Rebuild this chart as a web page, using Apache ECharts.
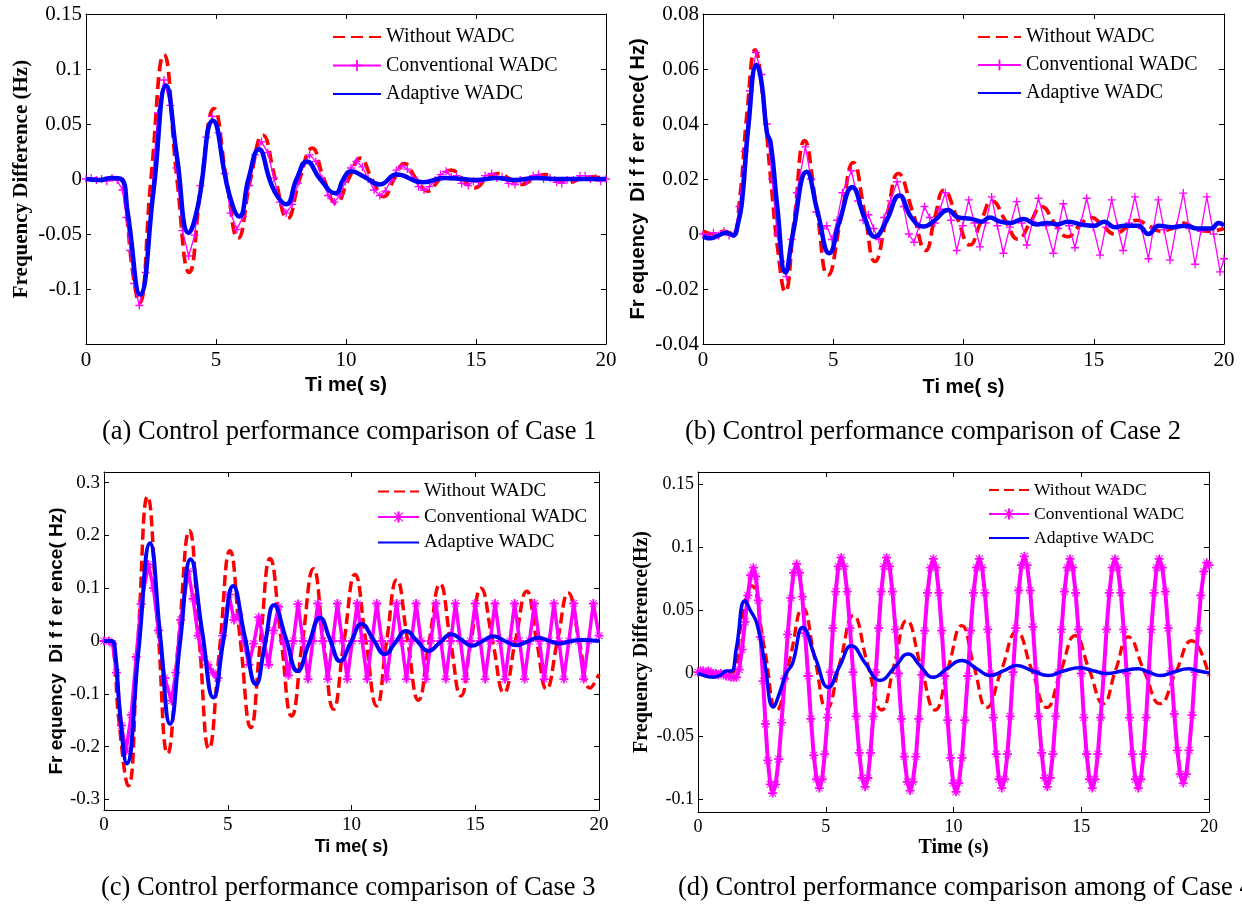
<!DOCTYPE html>
<html>
<head>
<meta charset="UTF-8">
<title>WADC control performance comparison</title>
<script src="https://cdn.jsdelivr.net/npm/echarts@6.0.0/dist/echarts.min.js"></script>
<style>
  html, body { margin: 0; padding: 0; background: #fff; }
  #chart { width: 1242px; height: 909px; }
</style>
</head>
<body>
<div id="chart"></div>
<script>
// ---- ticks ----
const timeTicks = [0, 5, 10, 15, 20];
const yTicksA = [-0.15, -0.1, -0.05, 0, 0.05, 0.1, 0.15];
const yLabelsA = [-0.1, -0.05, 0, 0.05, 0.1, 0.15];
const yTicksB = [-0.04, -0.02, 0, 0.02, 0.04, 0.06, 0.08];
const yTicksC = [-0.3, -0.2, -0.1, 0, 0.1, 0.2, 0.3];
const yTicksD = [-0.1, -0.05, 0, 0.05, 0.1, 0.15];

const seriesNames = ['Without WADC', 'Conventional WADC', 'Adaptive WADC'];

// ---- case 1 : [time s, frequency difference Hz] ----
const a_without = [[0,0],[0.7,0],[1.35,0],[1.55,-0.03],[1.8,-0.085],[2.05,-0.113],[2.5,0],[3.0,0.113],[3.5,0],[3.97,-0.085],[4.45,0],[4.92,0.064],[5.4,0],[5.85,-0.054],[6.33,0],[6.8,0.04],[7.28,0],[7.75,-0.036],[8.22,0],[8.7,0.028],[9.15,0],[9.62,-0.022],[10.1,0],[10.55,0.019],[11.0,0],[11.45,-0.016],[11.85,0],[12.25,0.014],[12.7,0],[13.15,-0.011],[13.6,0],[14.05,0.008],[14.5,0],[14.95,-0.008],[15.4,0],[15.85,0.005],[16.3,0],[16.75,-0.005],[17.2,0],[17.65,0.004],[18.1,0],[18.55,-0.003],[19.0,0],[19.45,0.002],[20,0]];
const a_conventional = [[0,0],[0.2,0.001],[0.4,-0.001],[0.6,0],[0.8,-0.002],[1.0,0.001],[1.2,-0.001],[1.4,-0.01],[1.55,-0.035],[1.7,-0.065],[1.85,-0.095],[2.05,-0.115],[2.29,-0.085],[2.53,-0.012],[2.76,0.06],[3.0,0.09],[3.24,0.067],[3.48,0.01],[3.71,-0.047],[3.95,-0.07],[4.18,-0.051],[4.4,-0.006],[4.63,0.038],[4.85,0.057],[5.09,0.042],[5.33,0.005],[5.56,-0.031],[5.8,-0.046],[6.04,-0.034],[6.28,-0.006],[6.51,0.022],[6.75,0.034],[6.99,0.024],[7.23,0.001],[7.46,-0.021],[7.7,-0.031],[7.93,-0.023],[8.15,-0.004],[8.38,0.014],[8.6,0.022],[8.84,0.016],[9.08,0.0],[9.31,-0.015],[9.55,-0.021],[9.76,-0.015],[9.98,-0.002],[10.19,0.01],[10.4,0.016],[10.63,0.011],[10.85,0.0],[11.08,-0.01],[11.3,-0.015],[11.51,-0.011],[11.73,-0.001],[11.94,0.008],[12.15,0.012],[12.36,0.009],[12.58,0.001],[12.79,-0.007],[13.0,-0.01],[13.21,-0.007],[13.43,-0.001],[13.64,0.004],[13.85,0.007],[14.05,0.002],[14.25,0.003],[14.45,-0.004],[14.7,-0.006],[14.9,-0.002],[15.1,-0.003],[15.35,0.003],[15.6,0.005],[15.8,0.001],[16.0,0.002],[16.25,-0.004],[16.5,-0.005],[16.7,-0.001],[16.95,-0.002],[17.2,0.003],[17.4,0.004],[17.6,0],[17.85,0.001],[18.1,-0.003],[18.3,-0.004],[18.5,-0.001],[18.75,-0.001],[19.0,0.003],[19.2,0.003],[19.4,0],[19.6,0.001],[19.8,-0.002],[20,0]];
const a_adaptive = [[0,0],[0.5,-0.001],[1.0,0.001],[1.35,0],[1.6,-0.03],[2.08,-0.105],[2.6,-0.01],[3.08,0.085],[3.5,0.02],[3.95,-0.049],[4.3,-0.025],[4.88,0.053],[5.5,-0.013],[5.9,-0.034],[6.25,0],[6.65,0.027],[7.1,-0.003],[7.4,-0.017],[7.7,-0.023],[8.1,0],[8.5,0.016],[9.0,0],[9.6,-0.013],[9.9,0],[10.2,0.007],[10.7,0.002],[11.3,-0.005],[11.95,0.004],[12.95,-0.003],[13.8,0.001],[14.5,0],[15,-0.001],[15.8,0.001],[16.5,-0.001],[17.3,0.001],[18.2,0],[19,0],[20,0]];

// ---- case 2 ----
const b_without = [[0,0.001],[0.4,0],[0.8,0.001],[1.15,0],[1.4,0.012],[1.7,0.045],[2.0,0.067],[2.3,0.05],[2.6,0.02],[2.9,-0.008],[3.15,-0.021],[3.5,0.005],[3.9,0.034],[4.35,0.01],[4.8,-0.015],[5.3,0.006],[5.77,0.026],[6.2,0.008],[6.6,-0.01],[7.05,0.006],[7.5,0.022],[8.05,0.008],[8.55,-0.006],[8.9,0.006],[9.25,0.016],[9.75,0.006],[10.25,-0.004],[10.65,0.004],[11.1,0.012],[11.6,0.005],[12.1,-0.002],[12.55,0.004],[13.0,0.01],[13.5,0.004],[14.0,-0.001],[14.45,0.003],[14.9,0.006],[15.35,0.003],[15.8,0],[16.2,0.002],[16.65,0.005],[17.1,0.003],[17.55,0.001],[18.0,0.002],[18.45,0.004],[18.9,0.002],[19.4,0.001],[20,0.002]];
const b_conventional = [[0,0],[0.2,-0.001],[0.4,0.0005],[0.6,-0.0005],[0.8,0.001],[1.0,-0.0005],[1.2,0],[1.4,0.01],[1.6,0.03],[1.8,0.052],[2.03,0.066],[2.25,0.058],[2.45,0.04],[2.65,0.02],[2.85,0],[3.0,-0.01],[3.2,-0.0155],[3.4,-0.002],[3.6,0.015],[3.93,0.0317],[4.15,0.02],[4.35,0.008],[4.55,0.002],[4.75,0.003],[4.95,-0.002],[5.15,0.005],[5.35,0.015],[5.7,0.023],[5.95,0.012],[6.15,0.005],[6.35,0.007],[6.55,0.002],[6.75,-0.002],[6.95,0.006],[7.2,0.012],[7.45,0.019],[7.7,0.01],[7.9,0],[8.1,-0.003],[8.3,0.003],[8.5,0.01],[8.7,0.006],[8.9,0.004],[9.1,0.009],[9.3,0.015],[9.52,0.005],[9.74,-0.006],[9.97,0.003],[10.2,0.0124],[10.42,0.004],[10.63,-0.0047],[10.85,0.004],[11.08,0.0135],[11.3,0.003],[11.53,-0.007],[11.78,0.0025],[12.04,0.0118],[12.23,0.004],[12.43,-0.004],[12.65,0.0045],[12.88,0.013],[13.16,0.003],[13.45,-0.007],[13.64,0.002],[13.83,0.011],[14.05,0.003],[14.28,-0.005],[14.5,0.004],[14.73,0.013],[14.98,0.0025],[15.24,-0.0077],[15.46,0.0025],[15.69,0.0124],[15.91,0.003],[16.13,-0.006],[16.35,0.004],[16.58,0.0135],[16.84,0.002],[17.1,-0.009],[17.29,0.002],[17.48,0.0124],[17.7,0.0015],[17.93,-0.0095],[18.18,0.003],[18.44,0.0149],[18.66,0.002],[18.89,-0.011],[19.11,0.001],[19.34,0.0135],[19.6,0],[19.85,-0.0138],[20,-0.009]];
const b_adaptive = [[0,-0.001],[0.3,-0.0015],[0.6,-0.0005],[0.9,0.0005],[1.15,-0.0005],[1.35,0.004],[1.5,0.012],[1.75,0.04],[2.06,0.0615],[2.25,0.055],[2.45,0.037],[2.6,0.033],[2.85,0.01],[3.17,-0.014],[3.45,0],[3.98,0.0226],[4.4,0.008],[4.85,-0.007],[5.25,0.005],[5.73,0.017],[6.2,0.006],[6.6,-0.001],[7.05,0.005],[7.54,0.014],[8.0,0.006],[8.46,0.0027],[8.9,0.005],[9.4,0.0087],[9.8,0.006],[10.3,0.0055],[10.7,0.0045],[11.0,0.006],[11.4,0.0045],[11.8,0.004],[12.3,0.0055],[12.8,0.0035],[13.2,0.004],[13.6,0.0035],[14.0,0.0045],[14.5,0.0035],[15.0,0.003],[15.4,0.0045],[15.8,0.0025],[16.2,0.003],[16.7,0.003],[17.1,0],[17.5,0.003],[18.0,0.0025],[18.5,0.003],[19.0,0.002],[19.5,0.002],[19.8,0.004],[20,0.003]];

// ---- case 3 ----
const c_without = [[0,0],[0.2,0],[0.37,-0.01],[0.6,-0.15],[0.98,-0.274],[1.37,0],[1.76,0.274],[2.17,0.03],[2.57,-0.213],[3.01,0],[3.45,0.209],[3.85,0],[4.24,-0.204],[4.67,-0.015],[5.09,0.171],[5.51,0],[5.93,-0.164],[6.32,0],[6.71,0.156],[7.15,0.005],[7.58,-0.142],[8.02,0],[8.46,0.137],[8.87,0],[9.27,-0.129],[9.7,0],[10.14,0.126],[10.58,0],[11.02,-0.123],[11.42,0],[11.83,0.116],[12.27,0],[12.7,-0.112],[13.14,0],[13.58,0.108],[14.0,0],[14.42,-0.104],[14.83,0],[15.23,0.1],[15.7,0],[16.16,-0.098],[16.62,0],[17.08,0.094],[17.48,0],[17.88,-0.091],[18.32,0],[18.76,0.091],[19.2,0],[19.64,-0.089],[20,-0.063]];
const c_conventional = [[0,0],[0.2,0],[0.35,-0.005],[0.5,-0.06],[0.7,-0.16],[0.89,-0.208],[1.1,-0.14],[1.3,-0.03],[1.5,0.07],[1.79,0.145],[2.0,0.1],[2.2,0.02],[2.45,-0.07],[2.73,-0.113],[2.9,-0.06],[3.1,0.04],[3.4,0.132],[3.6,0.08],[3.8,0.01],[4.0,-0.03],[4.2,-0.045],[4.4,-0.06],[4.6,-0.07],[4.8,0.01],[5.05,0.088],[5.25,0.04],[5.45,0.05],[5.65,0],[5.85,-0.045],[6.05,-0.005],[6.25,0.045],[6.45,0],[6.65,-0.045],[6.85,0.02],[7.05,0.065],[7.25,0],[7.45,-0.065],[7.65,0],[7.84,0.07],[8.04,0],[8.24,-0.072],[8.44,0],[8.64,0.071],[8.84,0],[9.04,-0.072],[9.24,0],[9.43,0.071],[9.63,0],[9.83,-0.072],[10.03,0],[10.23,0.071],[10.43,0],[10.63,-0.072],[10.83,0],[11.02,0.071],[11.22,0],[11.42,-0.072],[11.62,0],[11.82,0.071],[12.02,0],[12.22,-0.072],[12.42,0],[12.61,0.071],[12.81,0],[13.01,-0.072],[13.21,0],[13.41,0.071],[13.61,0],[13.81,-0.072],[14.01,0],[14.2,0.071],[14.4,0],[14.6,-0.072],[14.8,0],[15.0,0.071],[15.2,0],[15.4,-0.072],[15.6,0],[15.8,0.071],[16.0,0],[16.2,-0.072],[16.4,0],[16.59,0.071],[16.79,0],[16.99,-0.072],[17.19,0],[17.39,0.071],[17.59,0],[17.79,-0.072],[17.99,0],[18.18,0.071],[18.38,0],[18.58,-0.072],[18.78,0],[18.98,0.071],[19.18,0],[19.38,-0.072],[19.58,0],[19.77,0.071],[20,0.01]];
const c_adaptive = [[0,0],[0.3,0],[0.45,-0.02],[0.65,-0.14],[0.92,-0.232],[1.39,-0.02],[1.86,0.185],[2.27,0.01],[2.67,-0.157],[3.08,0],[3.5,0.155],[3.96,0.02],[4.42,-0.107],[4.82,0],[5.22,0.104],[5.68,0.01],[6.14,-0.082],[6.5,-0.007],[6.87,0.068],[7.35,0.005],[7.82,-0.057],[8.27,-0.006],[8.73,0.044],[9.13,0.003],[9.54,-0.038],[9.97,-0.003],[10.41,0.032],[10.88,0.003],[11.35,-0.025],[11.77,-0.003],[12.2,0.019],[12.65,0],[13.1,-0.019],[13.57,-0.003],[14.04,0.013],[14.45,0.002],[14.86,-0.009],[15.3,0],[15.73,0.009],[16.2,0],[16.67,-0.008],[17.1,-0.001],[17.55,0.006],[18.0,0],[18.42,-0.005],[18.8,-0.001],[19.23,0.002],[20,0]];

// ---- case 4 ----
const d_without = [[0,0],[0.5,0],[1.0,0],[1.37,0.001],[1.7,0.04],[2.1,0.0696],[2.6,0.02],[3.08,-0.029],[3.6,0.012],[4.1,0.052],[4.57,0.012],[5.04,-0.028],[5.56,0.009],[6.08,0.046],[6.63,0.008],[7.19,-0.029],[7.68,0.007],[8.17,0.042],[8.72,0.006],[9.28,-0.029],[9.8,0.005],[10.32,0.038],[10.81,0.005],[11.3,-0.027],[11.88,0.003],[12.47,0.033],[13.06,0.003],[13.65,-0.027],[14.2,0.002],[14.76,0.03],[15.31,0.003],[15.86,-0.024],[16.35,0.003],[16.84,0.029],[17.46,0.002],[18.08,-0.024],[18.7,0.001],[19.32,0.026],[20,-0.002]];
const d_conventional = [[0,0.001],[0.1,0.002],[0.2,0.002],[0.3,0.001],[0.4,0.002],[0.5,0.001],[0.6,0],[0.7,0],[0.8,-0.001],[0.9,0],[1.0,-0.001],[1.1,-0.002],[1.2,-0.002],[1.3,-0.003],[1.4,-0.003],[1.5,-0.003],
  [1.61,0.003],[1.72,0.019],[1.84,0.041],[1.95,0.062],[2.06,0.078],[2.17,0.084],
  [2.26,0.077],[2.36,0.058],[2.45,0.029],[2.55,-0.006],[2.64,-0.04],[2.73,-0.069],[2.83,-0.088],[2.92,-0.095],
  [3.04,-0.088],[3.16,-0.068],[3.27,-0.039],[3.39,-0.004],[3.51,0.031],[3.63,0.06],[3.74,0.08],[3.86,0.087],
  [3.97,0.08],[4.08,0.061],[4.19,0.032],[4.31,-0.002],[4.42,-0.036],[4.53,-0.065],[4.64,-0.084],[4.75,-0.091],
  [4.86,-0.084],[4.96,-0.064],[5.07,-0.035],[5.18,0.001],[5.28,0.036],[5.39,0.065],[5.49,0.085],[5.6,0.092],
  [5.72,0.085],[5.84,0.065],[5.95,0.036],[6.07,0.001],[6.19,-0.034],[6.31,-0.063],[6.42,-0.083],[6.54,-0.09],
  [6.65,-0.083],[6.75,-0.063],[6.86,-0.034],[6.96,0.001],[7.07,0.036],[7.17,0.065],[7.28,0.085],[7.38,0.092],
  [7.5,0.085],[7.61,0.065],[7.73,0.035],[7.84,0],[7.96,-0.036],[8.07,-0.066],[8.19,-0.086],[8.3,-0.093],
  [8.41,-0.086],[8.53,-0.066],[8.64,-0.036],[8.76,-0.001],[8.87,0.034],[8.98,0.064],[9.1,0.084],[9.21,0.091],
  [9.32,0.084],[9.43,0.064],[9.54,0.034],[9.66,-0.002],[9.77,-0.037],[9.88,-0.067],[9.99,-0.087],[10.1,-0.094],
  [10.21,-0.087],[10.33,-0.067],[10.44,-0.037],[10.56,-0.002],[10.67,0.034],[10.78,0.064],[10.9,0.084],[11.01,0.091],
  [11.12,0.084],[11.23,0.064],[11.34,0.035],[11.45,0],[11.56,-0.035],[11.67,-0.064],[11.78,-0.084],[11.89,-0.091],
  [12.0,-0.084],[12.11,-0.064],[12.22,-0.034],[12.33,0.001],[12.44,0.036],[12.55,0.066],[12.66,0.086],[12.77,0.093],
  [12.88,0.086],[13.0,0.066],[13.11,0.037],[13.22,0.002],[13.33,-0.034],[13.45,-0.063],[13.56,-0.083],[13.67,-0.09],
  [13.78,-0.083],[13.89,-0.064],[14.0,-0.034],[14.12,0.001],[14.23,0.035],[14.34,0.065],[14.45,0.084],[14.56,0.091],
  [14.67,0.084],[14.78,0.064],[14.89,0.035],[15.0,0],[15.1,-0.035],[15.21,-0.064],[15.32,-0.084],[15.43,-0.091],
  [15.54,-0.084],[15.65,-0.064],[15.76,-0.035],[15.88,0],[15.99,0.035],[16.1,0.064],[16.21,0.084],[16.32,0.091],
  [16.43,0.084],[16.55,0.064],[16.66,0.035],[16.78,0],[16.89,-0.035],[17.0,-0.064],[17.12,-0.084],[17.23,-0.091],
  [17.33,-0.084],[17.44,-0.064],[17.54,-0.035],[17.64,0],[17.74,0.035],[17.85,0.064],[17.95,0.084],[18.05,0.091],
  [18.17,0.084],[18.29,0.065],[18.4,0.036],[18.52,0.002],[18.64,-0.032],[18.76,-0.061],[18.87,-0.08],[18.99,-0.087],
  [19.11,-0.08],[19.22,-0.061],[19.34,-0.033],[19.45,0.001],[19.57,0.034],[19.68,0.062],[19.8,0.081],[19.91,0.088],
  [20,0.086]];
const d_adaptive = [[0,0],[0.3,-0.002],[0.6,-0.003],[0.9,-0.001],[1.1,0.002],[1.3,0.002],[1.5,0.02],[1.84,0.0577],[2.05,0.05],[2.3,0.04],[2.6,0.01],[2.95,-0.0266],[3.2,-0.015],[3.45,0],[3.7,0.008],[4.1,0.0366],[4.6,0.012],[5.1,-0.011],[5.55,0.006],[6.01,0.022],[6.55,0.008],[7.12,-0.0055],[7.7,0.005],[8.23,0.0155],[8.7,0.006],[9.21,-0.003],[9.75,0.004],[10.32,0.0103],[10.9,0.004],[11.43,-0.0016],[11.95,0.002],[12.47,0.0063],[13.1,0.002],[13.71,-0.0016],[14.3,0.002],[14.95,0.0045],[15.5,0.002],[16.0,0],[16.6,0.002],[17.23,0.0037],[17.65,0.001],[18.08,-0.0016],[18.6,0.001],[19.2,0.0037],[19.6,0.002],[20,0.0005]];

const SERIF = 'Liberation Serif';
const SANS = 'Liberation Sans';
const plusMark = 'path://M4.2,0H5.8V4.2H10V5.8H5.8V10H4.2V5.8H0V4.2H4.2Z';
const starMark = 'path://M4,0H6V4H10V6H6V10H4V6H0V4H4Z M1.5,0.8L9.2,8.5L8.5,9.2L0.8,1.5Z M8.5,0.8L9.2,1.5L1.5,9.2L0.8,8.5Z';

const panels = [
  { grid: {left: 86, top: 14, width: 520, height: 330}, yMin: -0.15, yMax: 0.15, yTicks: yTicksA, yLabels: yLabelsA,
    data: [a_without, a_conventional, a_adaptive], tickFs: 21,
    yName: 'Frequency Difference (Hz)', yFont: SERIF, yFs: 21, yGap: 54,
    xName: 'Ti me( s)', xFont: SANS, xFs: 20, xGap: 31,
    redW: 3.7, dash: [12, 6], blueW: 4.5, magW: 1.3, mark: plusMark, markSize: 8,
    leg: {left: 332, top: 27, w: 48, gap: 8.5, fs: 20} },
  { grid: {left: 703, top: 14, width: 521, height: 330}, yMin: -0.04, yMax: 0.08, yTicks: yTicksB, yLabels: yTicksB,
    data: [b_without, b_conventional, b_adaptive], tickFs: 21,
    yName: 'Fr equency  Di f f er ence( Hz)', yFont: SANS, yFs: 20, yGap: 55,
    xName: 'Ti me( s)', xFont: SANS, xFs: 20, xGap: 33,
    redW: 3.7, dash: [12, 6], blueW: 4.5, magW: 1.3, mark: plusMark, markSize: 8,
    leg: {left: 977, top: 27, w: 43, gap: 8, fs: 20} },
  { grid: {left: 104, top: 472, width: 495, height: 338}, yMin: -0.32, yMax: 0.32, yTicks: yTicksC, yLabels: yTicksC,
    data: [c_without, c_conventional, c_adaptive], tickFs: 19,
    yName: 'Fr equency  Di f f er ence( Hz)', yFont: SANS, yFs: 19, yGap: 37,
    xName: 'Ti me( s)', xFont: SANS, xFs: 18, xGap: 28,
    redW: 3.5, dash: [11, 5], blueW: 4, magW: 3.5, mark: starMark, markSize: 9,
    leg: {left: 377, top: 482, w: 41, gap: 6.5, fs: 19} },
  { grid: {left: 698, top: 472, width: 511, height: 340}, yMin: -0.11, yMax: 0.16, yTicks: yTicksD, yLabels: yTicksD,
    data: [d_without, d_conventional, d_adaptive], tickFs: 18,
    yName: 'Frequency Difference(Hz)', yFont: SERIF, yFs: 20, yGap: 46,
    xName: 'Time (s)', xFont: SERIF, xFs: 20, xGap: 26,
    redW: 3.3, dash: [10, 5], blueW: 3.5, magW: 4, mark: starMark, markSize: 9,
    leg: {left: 988, top: 481, w: 40, gap: 6, fs: 17.5} }
];

const captions = [
  {text: '(a) Control performance comparison of Case 1', x: 102, y: 432},
  {text: '(b) Control performance comparison of Case 2', x: 685, y: 432},
  {text: '(c) Control performance comparison of Case 3', x: 101, y: 888},
  {text: '(d) Control performance comparison among of Case 4', x: 678, y: 888}
];

const black = {color: '#000', width: 1};
const option = {
  animation: false,
  backgroundColor: '#fff',
  grid: [], xAxis: [], yAxis: [], series: [], legend: [],
  graphic: captions.map(c => ({
    type: 'text', x: c.x, y: c.y,
    style: {text: c.text, fontFamily: SERIF, fontSize: 26.5, fill: '#000', verticalAlign: 'middle'}
  }))
};

panels.forEach((p, i) => {
  option.grid.push(Object.assign({containLabel: false}, p.grid));
  const tickLabel = {fontFamily: SERIF, fontSize: p.tickFs, color: '#000'};
  option.xAxis.push({
    gridIndex: i, type: 'value', min: 0, max: 20, interval: 5, position: 'bottom',
    axisLine: {onZero: false, lineStyle: black},
    axisTick: {inside: true, length: 5, lineStyle: black},
    axisLabel: Object.assign({margin: 6}, tickLabel),
    splitLine: {show: false},
    name: p.xName, nameLocation: 'middle', nameGap: p.xGap,
    nameTextStyle: {fontFamily: p.xFont, fontWeight: 'bold', fontSize: p.xFs, color: '#000'}
  });
  option.xAxis.push({
    gridIndex: i, type: 'value', min: 0, max: 20, interval: 5, position: 'top',
    axisLine: {onZero: false, lineStyle: black},
    axisTick: {inside: true, length: 5, lineStyle: black},
    axisLabel: {show: false}, splitLine: {show: false}
  });
  option.yAxis.push({
    gridIndex: i, type: 'value', min: p.yMin, max: p.yMax, position: 'left',
    axisLine: {onZero: false, lineStyle: black},
    axisTick: {inside: true, length: 5, lineStyle: black, customValues: p.yTicks},
    axisLabel: Object.assign({margin: 4, customValues: p.yLabels}, tickLabel),
    splitLine: {show: false},
    name: p.yName, nameLocation: 'middle', nameGap: p.yGap,
    nameTextStyle: {fontFamily: p.yFont, fontWeight: 'bold', fontSize: p.yFs, color: '#000'}
  });
  option.yAxis.push({
    gridIndex: i, type: 'value', min: p.yMin, max: p.yMax, position: 'right',
    axisLine: {onZero: false, lineStyle: black},
    axisTick: {inside: true, length: 5, lineStyle: black, customValues: p.yTicks},
    axisLabel: {show: false}, splitLine: {show: false}
  });

  const names = seriesNames.map(n => n + '#' + i);
  const axisRef = {xAxisIndex: 2 * i, yAxisIndex: 2 * i};
  option.series.push(Object.assign({
    type: 'line', name: names[0], data: p.data[0], smooth: 0.5, symbol: 'none',
    lineStyle: {color: '#ff0000', width: p.redW, type: p.dash}, itemStyle: {color: '#ff0000'}, z: 2
  }, axisRef));
  option.series.push(Object.assign({
    type: 'line', name: names[1], data: p.data[1], symbol: p.mark, symbolSize: p.markSize, showSymbol: true,
    lineStyle: {color: '#ff00ff', width: p.magW}, itemStyle: {color: '#ff00ff'}, z: 3
  }, axisRef));
  option.series.push(Object.assign({
    type: 'line', name: names[2], data: p.data[2], smooth: 0.5, symbol: 'none',
    lineStyle: {color: '#0000ff', width: p.blueW}, itemStyle: {color: '#0000ff'}, z: 4
  }, axisRef));

  // line-only series get no marker in their legend entry
  option.legend.push({
    orient: 'vertical', left: p.leg.left, top: p.leg.top, padding: 0,
    itemWidth: p.leg.w, itemHeight: 14, itemGap: p.leg.gap, selectedMode: false,
    data: [
      {name: names[0], itemStyle: {opacity: 0}},
      {name: names[1]},
      {name: names[2], itemStyle: {opacity: 0}}
    ],
    formatter: n => n.split('#')[0],
    textStyle: {fontFamily: SERIF, fontSize: p.leg.fs, color: '#000'}
  });
});

const chart = echarts.init(document.getElementById('chart'));
chart.setOption(option);
</script>
</body>
</html>
